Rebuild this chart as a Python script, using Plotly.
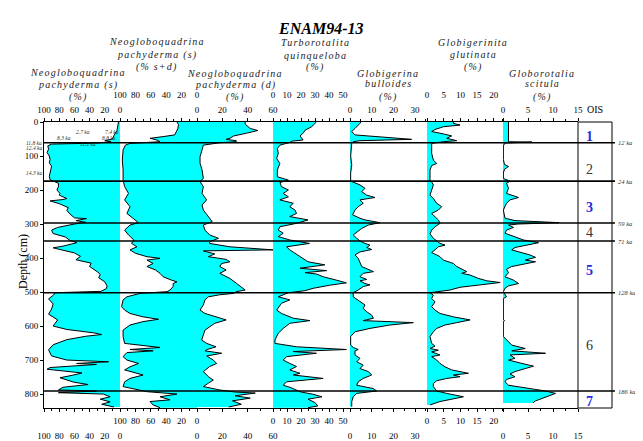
import plotly.graph_objects as go

# ---------------- data (depth in cm, abundance in %) ----------------
p1_depth = [0, 10, 25, 40, 50, 55, 58, 62, 65, 70, 80, 90, 100, 110, 120, 130, 140, 150, 160, 170,
            180, 190, 200, 210, 215, 225, 228, 232, 240, 252, 260, 270, 282, 284, 290, 295, 300, 310,
            318, 328, 338, 348, 355, 365, 370, 377, 385, 395, 405, 415, 425, 440, 448, 458, 470, 482,
            490, 498, 502, 510, 520, 535, 550, 565, 582, 600, 610, 620, 625, 630, 640, 655, 670, 688,
            700, 705, 710, 713, 716, 722, 727, 732, 738, 745, 752, 765, 772, 780, 788, 791, 796, 800,
            808, 815, 823, 830, 838]
p1_vals = [2, 3, 4, 8, 10, 20, 12, 30, 90, 95, 94, 96, 93, 92, 93, 90, 91, 92, 93, 92,
           81, 81, 83, 79, 80, 70, 75, 92, 80, 68, 70, 66, 60, 44, 58, 45, 60, 82,
           90, 88, 72, 66, 57, 75, 88, 75, 60, 52, 58, 38, 40, 30, 26, 28, 20, 17,
           18, 25, 85, 88, 94, 88, 90, 94, 82, 88, 70, 35, 24, 45, 70, 88, 94, 90,
           70, 15, 57, 31, 57, 92, 96, 75, 50, 63, 79, 61, 42, 75, 81, 31, 81, 22,
           13, 26, 13, 24, 8]

p2_depth = [0, 8, 20, 38, 43, 48, 53, 58, 63, 68, 82, 112, 141, 170, 190, 210, 229, 249, 269, 288,
            296, 303, 318, 332, 347, 357, 367, 376, 386, 396, 401, 406, 416, 425, 435, 445, 455, 465,
            470, 475, 484, 494, 499, 504, 514, 523, 543, 553, 563, 573, 580, 587, 597, 612, 631, 651,
            663, 669, 673, 678, 690, 700, 710, 720, 729, 744, 754, 764, 778, 793, 800, 808, 817, 822,
            832, 840]
p2_vals = [26, 24, 25, 29, 44, 61, 52, 48, 87, 93, 96, 97, 96, 96, 94, 89, 94, 87, 91, 80,
           76, 87, 94, 89, 82, 85, 78, 87, 80, 65, 48, 65, 57, 65, 54, 48, 44, 33,
           26, 31, 31, 35, 39, 74, 91, 96, 98, 94, 87, 70, 50, 70, 87, 96, 96, 94,
           48, 87, 57, 91, 96, 91, 76, 87, 94, 70, 87, 94, 96, 65, 26, 48, 35, 61,
           57, 48]

p3_depth = [0, 6, 19, 25, 33, 41, 48, 51, 55, 58, 61, 64, 68, 82, 102, 121, 141, 166, 175, 190,
            210, 229, 244, 259, 278, 293, 303, 318, 332, 342, 352, 357, 367, 376, 379, 388, 396, 404,
            411, 416, 425, 435, 445, 460, 474, 484, 494, 499, 504, 508, 514, 523, 538, 553, 563, 582,
            592, 612, 626, 641, 651, 661, 669, 673, 680, 688, 700, 710, 719, 734, 749, 759, 768, 778,
            788, 794, 797, 805, 812, 820, 830, 838]
p3_vals = [38, 38, 42, 48, 39, 29, 26, 23, 31, 31, 18, 13, 5, 4, 2.4, 2.4, 4, 5, 2.4, 5,
           4, 7.6, 4, 5, 9, 12, 5, 6.3, 10, 17, 10, 10, 26, 60, 5, 14, 9, 23,
           26, 19.5, 18, 23, 18, 26, 31, 35, 38, 31, 29, 18, 9, 6.3, 5, 2.4, 6.3, 23,
           14, 6.3, 5, 3.7, 7.6, 15, 8, 6.3, 19.5, 7.6, 12.9, 15.5, 10, 5, 9, 12.9, 9, 5,
           18, 30, 46, 30, 42, 28, 35, 25]

p4_depth = [0, 4, 14, 24, 33, 41, 48, 53, 56, 60, 68, 78, 92, 107, 122, 141, 161, 171, 178, 190,
            200, 210, 220, 229, 239, 249, 259, 269, 278, 288, 298, 308, 318, 327, 337, 347, 357, 367,
            376, 386, 396, 404, 411, 420, 425, 430, 437, 443, 447, 455, 465, 473, 480, 489, 496, 502,
            514, 523, 533, 553, 563, 577, 584, 592, 607, 621, 641, 651, 661, 669, 675, 680, 690, 700,
            710, 719, 729, 739, 744, 754, 764, 774, 780, 788, 794, 800, 808, 815, 825, 835, 840]
p4_vals = [31, 30, 27.6, 23, 21.5, 19.3, 20.5, 21.5, 14, 12, 5, 3.1, 3.8, 2.6, 4.9, 3.1, 3.1, 11, 5, 6,
           11, 7.3, 11, 4.9, 14.5, 12, 15.7, 16.8, 12, 25, 16.8, 4.9, 3.8, 7.3, 3.8, 12, 26, 9.7,
           12, 15.7, 19.3, 21.5, 25, 37, 26.3, 19.3, 38.3, 22.9, 31, 35.8, 45.3, 52.4, 40.5, 28.8, 22.9, 11,
           3.8, 12, 6.1, 2.6, 6.1, 14.5, 26.3, 12, 7.3, 3.8, 1.4, 1.4, 16.8, 52.4, 14.5, 31, 9.7, 7.3,
           12, 16.8, 12, 19.3, 14.5, 35.8, 9.7, 7.3, 12, 16.8, 20, 28, 35, 25, 30, 32, 25]

p5_depth = [0, 4, 19, 28, 38, 45, 51, 55, 58, 63, 100, 126, 150, 171, 175, 185, 195, 205, 215, 222,
            229, 239, 249, 259, 273, 283, 288, 296, 303, 313, 323, 332, 342, 350, 357, 362, 369, 375,
            382, 391, 401, 411, 425, 440, 445, 455, 463, 467, 475, 479, 484, 494, 502, 514, 529, 538,
            548, 558, 568, 577, 584, 590, 597, 607, 617, 631, 656, 663, 669, 673, 685, 695, 705, 715,
            725, 734, 744, 754, 764, 774, 784, 791, 798, 808, 822, 837]
p5_vals = [5, 4.6, 2.3, 0.8, 2.3, 16, 28.4, 4.6, 1.5, 0.8, 0.3, 0.8, 0.3, 0.3, 0.8, 4.6, 6.9, 5.4, 7.7, 11.5,
           4.6, 6.1, 3.8, 2.3, 1.2, 4.6, 6.9, 13.8, 8.5, 5.4, 3.1, 1.5, 3.1, 4.6, 6.9, 9.2, 7.7, 10,
           4.6, 2.3, 3.8, 4.6, 5.4, 10.8, 6.1, 4.6, 7.7, 4.6, 6.9, 9.2, 6.1, 3.8, 1.5, 1.5, 4.6, 6.9,
           6.1, 7.7, 10, 10.8, 6.1, 29.2, 18.4, 9.2, 2.3, 0.3, 0.3, 1.5, 3.8, 2.3, 2.3, 4.6, 3.1, 6.1,
           4.6, 8.5, 10, 6.1, 3.8, 3.1, 10.8, 12.3, 3.1, 1.5, 0.8, 0.8]

p6_depth = [0, 4, 9, 14, 22, 28, 35, 41, 48, 55, 58, 63, 72, 92, 112, 122, 128, 141, 171, 176,
            185, 200, 215, 225, 239, 249, 259, 269, 278, 288, 298, 308, 318, 329, 342, 350, 357, 362,
            367, 376, 384, 391, 396, 406, 411, 416, 425, 433, 440, 445, 450, 460, 467, 472, 479, 486,
            494, 502, 509, 519, 529, 543, 553, 563, 573, 582, 590, 597, 607, 617, 631, 651, 659, 666,
            671, 676, 685, 690, 700, 710, 720, 729, 739, 744, 749, 754, 761, 769, 778, 791, 798, 808,
            816, 822, 832]
p6_vals = [8, 7.9, 9.9, 4.9, 2.4, 1.4, 4.9, 7.4, 5.9, 8.9, 4.9, 1.4, 1.4, 1.4, 1.9, 2.9, 1.4, 0.9, 0.9, 1.4,
           1.9, 1.4, 0.9, 1.9, 2.9, 4.4, 3.4, 1.4, 2.4, 3.4, 3.9, 2.4, 1.4, 0.9, 1.9, 2.9, 3.9, 5.4,
           3.4, 2.4, 1.4, 2.9, 3.9, 4.9, 6.4, 7.9, 8.9, 10.4, 11.9, 10.4, 12.9, 15.4, 17.9, 21.9, 14.9, 9.9,
           6.9, 0.9, 1.9, 1.4, 2.4, 1.4, 2.4, 3.9, 7.9, 12.9, 8.9, 5.4, 2.9, 1.9, 0.9, 1.4, 2.4, 0.9,
           3.4, 1.4, 3.9, 1.4, 2.9, 3.9, 5.4, 7.4, 12.4, 7.9, 9.9, 5.9, 2.9, 1.9, 1.9, 2.9, 5.9, 10.9,
           6.9, 3.9, 0.9]

p7_depth = [0, 58, 59, 62, 70, 110, 125, 131, 139, 150, 166, 174, 180, 195, 210, 222, 229, 239, 259, 283,
            290, 296, 300, 303, 310, 318, 327, 337, 347, 355, 362, 369, 376, 384, 391, 398, 406, 411,
            418, 425, 433, 443, 455, 465, 475, 482, 489, 499, 514, 519, 580, 584, 588, 631, 646, 656,
            666, 673, 680, 685, 695, 700, 710, 718, 725, 734, 741, 749, 757, 764, 774, 784, 791, 798,
            806, 813, 820, 826]
p7_vals = [1.1, 1.1, 5.8, 0.4, 0.07, 0.07, 0.3, 1.1, 0.3, 0.07, 0.07, 1.4, 0.7, 1.1, 0.7, 3.1, 1.4, 0.7, 0.07, 0.4,
           2.4, 11.2, 3, 1.1, 2.1, 0.7, 0.4, 2.4, 4.1, 7.1, 4.5, 2.4, 1.75, 3.8, 5.4, 6.5, 4.45, 6.5,
           4.45, 1.75, 0.7, 1.1, 0.4, 2.1, 3.1, 1.1, 0.4, 0.07, 0.7, 0.07, 0.07, 0.3, 0.07, 0.07, 1.1, 1.75,
           4.45, 1.75, 8.5, 1.4, 2.4, 1.1, 3.8, 6.1, 4.45, 2.4, 1.4, 2.4, 0.7, 0.4, 1.1, 5.8, 8.5, 10.5,
           9.2, 7.8, 6.5, 6]

panel_titles = [
    ["Neogloboquadrina", "pachyderma (s)", "(%)"],
    ["Neogloboquadrina", "pachyderma (s)", "(% s+d)"],
    ["Neogloboquadrina", "pachyderma (d)", "(%)"],
    ["Turborotalita", "quinqueloba", "(%)"],
    ["Globigerina", "bulloides", "(%)"],
    ["Globigerinita", "glutinata", "(%)"],
    ["Globorotalia", "scitula", "(%)"],
]
panel_ranges = [[100, 0], [100, 0], [0, 60], [0, 55], [0, 35.5], [0, 22.75], [0, 15]]
panel_ticks = [[100, 80, 60, 40, 20, 0], [100, 80, 60, 40, 20, 0], [0, 20, 40, 60],
               [0, 10, 20, 30, 40, 50], [0, 10, 20, 30], [0, 5, 10, 15, 20], [0, 5, 10, 15]]
panel_minor = [10, 10, 10, 5, 5, 2.5, 2.5]

depth_ticks = [0, 100, 200, 300, 400, 500, 600, 700, 800]
ois_boundaries = [61, 174, 297, 350, 502, 791]
ois_ages = ["12 ka", "24 ka", "59 ka", "71 ka", "128 ka", "186 ka"]
ois_stages = ["1", "2", "3", "4", "5", "6", "7"]
ois_label_depths = [42, 140, 250, 326, 437, 656, 822]
dates_labels = ["2.7 ka", "7.4 ka", "8.3 ka", "8.8 ka", "11.2 ka", "11.8 ka", "12.4 ka", "14.3 ka"]

depths = [p1_depth, p2_depth, p3_depth, p4_depth, p5_depth, p6_depth, p7_depth]
values = [p1_vals, p2_vals, p3_vals, p4_vals, p5_vals, p6_vals, p7_vals]

# ---------------- layout geometry (page pixels; the page body adds an 8px offset) ----------------
PAGE_W, PAGE_H, OFF = 643, 441, 8
W, H = PAGE_W - OFF, PAGE_H - OFF
L, R, T, B = 44, 612, 122, 408
edges = [44, 120, 197, 273, 350, 427, 503, 578]
DMAX = 841


def fx(px):
    return (px - L) / (R - L)


def fy(py):
    return (B - py) / (B - T)


SERIF = "Liberation Serif"
CYAN = "#00FFFF"

fig = go.Figure()
layout = dict(
    width=W, height=H,
    margin=dict(l=L - OFF, r=PAGE_W - R, t=T - OFF, b=PAGE_H - B, pad=0, autoexpand=False),
    paper_bgcolor="white", plot_bgcolor="white",
    showlegend=False,
    font=dict(family=SERIF, color="black"),
    yaxis=dict(domain=[0, 1], range=[DMAX, 0], anchor="x", tickvals=depth_ticks, automargin=False,
               ticks="outside", ticklen=3, tickcolor="black", showline=True, linecolor="black",
               linewidth=1, showgrid=False, zeroline=False,
               tickfont=dict(family=SERIF, size=9, color="black")),
)

for i in range(7):
    n = i + 1
    xa = "x" if n == 1 else f"x{n}"
    key = "xaxis" if n == 1 else f"xaxis{n}"
    odd = (n % 2 == 1)
    fig.add_trace(go.Scatter(
        x=values[i], y=depths[i], xaxis=xa, yaxis="y", mode="lines",
        fill="tozerox", fillcolor=CYAN, line=dict(color="black", width=1),
        hoverinfo="skip"))
    common = dict(range=panel_ranges[i], tickvals=panel_ticks[i], showgrid=False, zeroline=False,
                  automargin=False,
                  tickfont=dict(family=SERIF, size=9, color="black"),
                  ticks="outside", ticklen=3, tickcolor="black",
                  minor=dict(ticks="outside", ticklen=2, dtick=panel_minor[i], tickcolor="black",
                             showgrid=False))
    layout[key] = dict(domain=[fx(edges[i]), fx(edges[i + 1])], anchor="y", side="top",
                       showline=True, linecolor="black", linewidth=1, mirror=True,
                       ticklabelstandoff=1 if odd else 16, **common)
    bkey = f"xaxis{n + 7}"
    bxa = f"x{n + 7}"
    layout[bkey] = dict(overlaying=xa, anchor="y", side="bottom", showline=False,
                        ticklabelstandoff=16 if odd else 1, **common)
    fig.add_trace(go.Scatter(x=[panel_ranges[i][0]], y=[0], xaxis=bxa, yaxis="y", mode="markers",
                             marker=dict(opacity=0), hoverinfo="skip"))

fig.update_layout(**layout)

# OIS column box
fig.add_shape(type="rect", xref="paper", yref="paper", x0=fx(578), x1=1, y0=0, y1=1,
              line=dict(color="black", width=1), fillcolor="rgba(0,0,0,0)")

# boundary lines + ages
for d, lab in zip(ois_boundaries, ois_ages):
    fig.add_shape(type="line", xref="paper", yref="y", x0=0, x1=fx(615), y0=d, y1=d,
                  line=dict(color="black", width=1.6))
    fig.add_annotation(x=fx(616), y=d, xref="paper", yref="y", text=f"<i>{lab}</i>",
                       showarrow=False, xanchor="left", yanchor="middle",
                       font=dict(family=SERIF, size=6.5, color="#333333"))

# stage numbers
for s, d in zip(ois_stages, ois_label_depths):
    blue = int(s) % 2 == 1
    fig.add_annotation(x=fx(595), y=d, xref="paper", yref="y",
                       text=f"<b>{s}</b>" if blue else s, showarrow=False,
                       font=dict(family=SERIF, size=14, color="#1f2fe0" if blue else "#333333"))

fig.add_annotation(x=fx(586), y=fy(109), xref="paper", yref="paper", text="OIS", showarrow=False,
                   xanchor="left", yanchor="middle", borderpad=0,
                   font=dict(family=SERIF, size=10, color="black"))

# species titles
title_pos = [(78, [72, 85, 97]), (157, [42, 55, 67]), (235, [73, 85, 97]), (315, [43, 55, 67]),
             (388, [73, 84, 97]), (473, [43, 54, 67]), (542, [74, 84, 97])]
for (cx, ys), lines in zip(title_pos, panel_titles):
    for j, (ty, txt) in enumerate(zip(ys, lines)):
        t = f'<i><span style="letter-spacing:1.2px">{txt}</span></i>'
        fig.add_annotation(x=fx(cx), y=fy(ty), xref="paper", yref="paper", text=t,
                           showarrow=False, xanchor="center", yanchor="middle",
                           font=dict(family=SERIF, size=10, color="#222222"))

fig.add_annotation(x=fx(320), y=fy(18), xref="paper", yref="paper",
                   text="<b><i>ENAM94-13</i></b>", showarrow=False,
                   font=dict(family=SERIF, size=16, color="black"))

fig.add_annotation(x=fx(14), y=fy(262), xref="paper", yref="paper", text="Depth (cm)",
                   textangle=-90, showarrow=False, font=dict(family=SERIF, size=12, color="black"))

# small date labels near core top
date_pos = [(74, 127), (103, 127), (55, 133), (100, 133), (78, 139), (24, 138), (24, 143), (24, 168)]
for lab, (x, y) in zip(dates_labels, date_pos):
    fig.add_annotation(x=fx(x), y=fy(y), xref="paper", yref="paper", text=f"<i>{lab}</i>",
                       showarrow=False, font=dict(family=SERIF, size=5.5, color="#333333"))

fig.write_html("out.html")
